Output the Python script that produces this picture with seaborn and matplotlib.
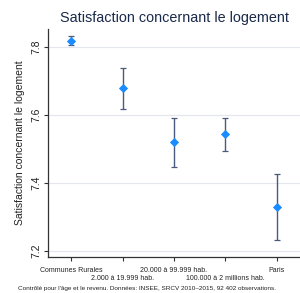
import matplotlib
matplotlib.use("Agg")
import matplotlib.pyplot as plt
import seaborn as sns
import numpy as np
import pandas as pd

categories = ["Communes Rurales", "2.000 à 19.999 hab.", "20.000 à 99.999 hab.",
              "100.000 à 2 millions hab.", "Paris"]
estimates = [7.819, 7.679, 7.520, 7.544, 7.329]
ci_low = [7.806, 7.618, 7.447, 7.495, 7.231]
ci_high = [7.833, 7.739, 7.592, 7.592, 7.427]
yticks = [7.2, 7.4, 7.6, 7.8]

sns.set_theme(style="white")
plt.rcParams['font.family'] = ['Liberation Sans', 'DejaVu Sans']

df = pd.DataFrame({"cat": categories, "x": np.arange(len(categories)), "y": estimates})

fig = plt.figure(figsize=(3.0, 2.93), dpi=100)
ax = fig.add_axes([0.16, 0.1229, 0.84, 0.778])

err = [np.array(estimates) - np.array(ci_low), np.array(ci_high) - np.array(estimates)]
ax.errorbar(df["x"], df["y"], yerr=err, fmt="none", ecolor="#4a5a7c", elinewidth=1.0,
            capsize=2.2, capthick=0.9, zorder=2)
sns.scatterplot(data=df, x="x", y="y", marker="D", s=22, color="#1a8cff",
                edgecolor="#1a8cff", linewidth=0, ax=ax, zorder=3)

ax.set_xlim(-0.45, 4.45)
ax.set_ylim(7.182, 7.853)
ax.set_yticks(yticks)
ax.set_yticklabels([f"{t:.1f}" for t in yticks], rotation=90, va="center", fontsize=7.5, color="#222222")
ax.set_xticks(df["x"])
ax.set_xticklabels(categories, fontsize=5, color="#222222")
ax.tick_params(axis="both", which="both", length=3, width=0.8, color="#333333", pad=2)
ax.tick_params(axis="x", pad=4)
ax.tick_params(left=True, bottom=True)
for i, t in enumerate(ax.xaxis.get_major_ticks()):
    if i % 2 == 1:
        t.set_pad(10)
ax.yaxis.grid(True, color="#e4e6ee", linewidth=0.8)
ax.set_axisbelow(True)
for s in ["top", "right"]:
    ax.spines[s].set_visible(False)
for s in ["left", "bottom"]:
    ax.spines[s].set_color("#333333")
    ax.spines[s].set_linewidth(0.9)
ax.set_xlabel("")
ax.set_ylabel("Satisfaction concernant le logement", fontsize=7.5, color="#222222", labelpad=4)
ax.set_title("Satisfaction concernant le logement", fontsize=10.4, color="#1a2a4a", pad=5)

fig.text(0.06, 0.016, "Contrôlé pour l'âge et le revenu. Données: INSEE, SRCV 2010–2015, 92 402 observations.",
         fontsize=4.6, color="#222222", ha="left", va="center")

fig.savefig("out.png", dpi=100)
